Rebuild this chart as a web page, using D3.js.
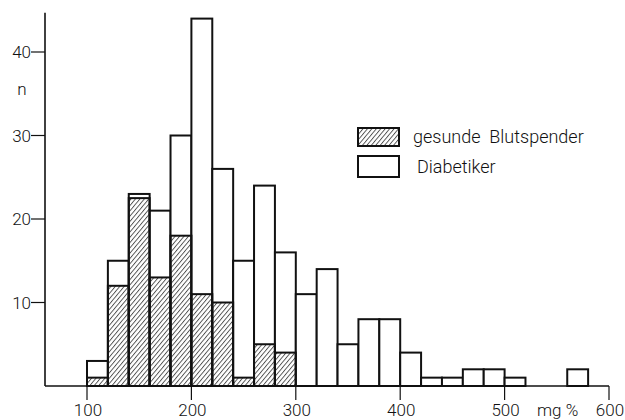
<!DOCTYPE html>
<html>
<head>
<meta charset="utf-8">
<script src="https://cdn.jsdelivr.net/npm/d3@7"></script>
<style>
  body { margin: 0; background: #fff; }
  text { font-family: Roboto, "Liberation Sans", sans-serif; font-weight: 300; fill: #111; }
</style>
</head>
<body>
<script>
'use strict';

// bin lower edges (mg %), width 20
const binStarts = [100, 120, 140, 160, 180, 200, 220, 240, 260, 280, 300, 320, 340,
  360, 380, 400, 420, 440, 460, 480, 500, 520, 540, 560, 580];
const binWidth = 20;
// Diabetiker (open bars)
const diabetiker = [3, 15, 23, 21, 30, 44, 26, 15, 24, 16, 11, 14, 5,
  8, 8, 4, 1, 1, 2, 2, 1, 0, 0, 2, 0];
// gesunde Blutspender (hatched bars)
const gesunde = [1, 12, 22.5, 13, 18, 11, 10, 1, 5, 4, 0, 0, 0,
  0, 0, 0, 0, 0, 0, 0, 0, 0, 0, 0, 0];
const xTicks = [100, 200, 300, 400, 500, 600];
const yTicks = [10, 20, 30, 40];
const legendLabels = ["gesunde  Blutspender", "Diabetiker"];

const svg = d3.select('body').append('svg')
  .attr('width', 625)
  .attr('height', 420);

// hatch pattern
svg.append('defs').append('pattern')
  .attr('id', 'hatch')
  .attr('patternUnits', 'userSpaceOnUse')
  .attr('width', 3.4)
  .attr('height', 10)
  .attr('patternTransform', 'rotate(40)')
  .append('line')
  .attr('x1', 0.5).attr('y1', 0)
  .attr('x2', 0.5).attr('y2', 10)
  .attr('stroke', '#222')
  .attr('stroke-width', 0.8);

const x = d3.scaleLinear().domain([100, 600]).range([87, 609]);
const y = d3.scaleLinear().domain([0, 40]).range([386, 52]);

// open bars (Diabetiker)
svg.selectAll('.dia')
  .data(binStarts.map((b, i) => ({ b: b, n: diabetiker[i] })).filter(d => d.n > 0))
  .enter().append('rect')
  .attr('class', 'dia')
  .attr('x', d => x(d.b))
  .attr('y', d => y(d.n))
  .attr('width', d => x(d.b + binWidth) - x(d.b))
  .attr('height', d => y(0) - y(d.n))
  .attr('fill', '#fff')
  .attr('stroke', '#111')
  .attr('stroke-width', 2);

// hatched bars (gesunde Blutspender)
svg.selectAll('.ges')
  .data(binStarts.map((b, i) => ({ b: b, n: gesunde[i] })).filter(d => d.n > 0))
  .enter().append('rect')
  .attr('class', 'ges')
  .attr('x', d => x(d.b))
  .attr('y', d => y(d.n))
  .attr('width', d => x(d.b + binWidth) - x(d.b))
  .attr('height', d => y(0) - y(d.n))
  .attr('fill', 'url(#hatch)')
  .attr('stroke', '#111')
  .attr('stroke-width', 2);

// y axis
svg.append('line')
  .attr('x1', 45).attr('x2', 45)
  .attr('y1', y(44.7)).attr('y2', y(0))
  .attr('stroke', '#111').attr('stroke-width', 1.6);
yTicks.forEach(t => {
  svg.append('line')
    .attr('x1', 31).attr('x2', 45)
    .attr('y1', y(t)).attr('y2', y(t))
    .attr('stroke', '#111').attr('stroke-width', 1.2);
  svg.append('text')
    .attr('x', 31).attr('y', y(t) + 6)
    .attr('text-anchor', 'end')
    .style('font-size', '17px')
    .text(t);
});
svg.append('text')
  .attr('x', 22).attr('y', 95)
  .attr('text-anchor', 'middle')
  .style('font-size', '17px')
  .text('n');

// x axis
svg.append('line')
  .attr('x1', 45).attr('x2', x(600))
  .attr('y1', y(0)).attr('y2', y(0))
  .attr('stroke', '#111').attr('stroke-width', 1.6);
xTicks.forEach(t => {
  svg.append('line')
    .attr('x1', x(t)).attr('x2', x(t))
    .attr('y1', y(0)).attr('y2', y(0) + 14)
    .attr('stroke', '#111').attr('stroke-width', 1.2);
  svg.append('text')
    .attr('x', x(t) + 1).attr('y', 416)
    .attr('text-anchor', 'middle')
    .style('font-size', '17px')
    .text(t);
});
svg.append('text')
  .attr('x', 537).attr('y', 416)
  .style('font-size', '17px')
  .text('mg %');

// legend
const legendFills = ['url(#hatch)', '#fff'];
legendLabels.forEach((lab, i) => {
  svg.append('rect')
    .attr('x', 358).attr('y', 128 + i * 28)
    .attr('width', 41).attr('height', 18 + i * 3)
    .attr('fill', legendFills[i])
    .attr('stroke', '#111').attr('stroke-width', 2);
  svg.append('text')
    .attr('x', 413 + i * 4).attr('y', 143 + i * 30)
    .style('font-size', '18px')
    .style('white-space', 'pre')
    .text(lab);
});
</script>
</body>
</html>
